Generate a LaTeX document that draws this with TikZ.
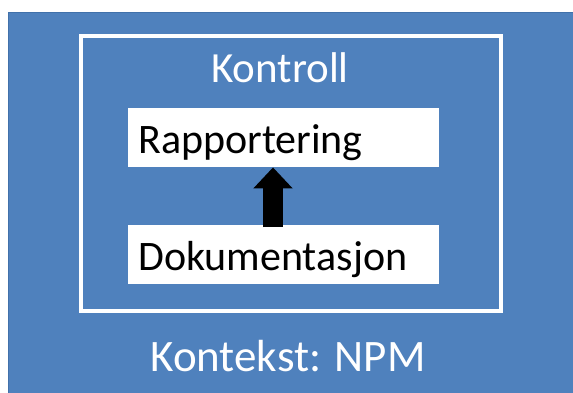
\documentclass[tikz,border=0pt]{standalone}
\usepackage{fontspec}
\setmainfont{Carlito}
\usepackage{tikz}
\usetikzlibrary{arrows.meta,positioning}
\definecolor{npmblue}{RGB}{79,129,189}
\definecolor{npmedge}{RGB}{65,113,170}

\begin{document}
\begin{tikzpicture}
[
x=1pt, y=-1pt,
context/.style={fill=npmblue, draw=npmedge, line width=1pt},
frame/.style={draw=white, line width=4pt},
label/.style={text=white, font=\fontsize{43}{50}\selectfont, anchor=base, inner sep=0pt},
textbox/.style={fill=white, text=black, font=\fontsize{42}{49}\selectfont, minimum width=311pt, minimum height=59pt,
  text width=291pt, align=left, inner xsep=10pt, inner ysep=0pt, text height=40pt, text depth=8pt, anchor=north west},
uparrow/.style={line width=20pt, -{Triangle[width=38pt,length=21pt]}}
]
\useasboundingbox (0,0) rectangle (573,392);
%Background
\fill[white] (0,0) rectangle (573,392);
\draw[context] (8,12) rectangle (575,394);
\draw[frame] (81,36) rectangle (501,311);

%Nodes
\node[label]    (kontroll)  at (280,82)     {Kontroll};
\node[textbox]  (rapp)      at (128,108)    {Rapportering};
\node[textbox]  (doku)      at (128,225)    {Dokumentasjon};
\node[label, font=\fontsize{45}{52}\selectfont] (kontekst) at (288,371) {Kontekst: NPM};

%Lines
\coordinate (foot) at (273,227);
\draw[uparrow] (foot) -- (foot |- rapp.south);
\end{tikzpicture}
\end{document}
